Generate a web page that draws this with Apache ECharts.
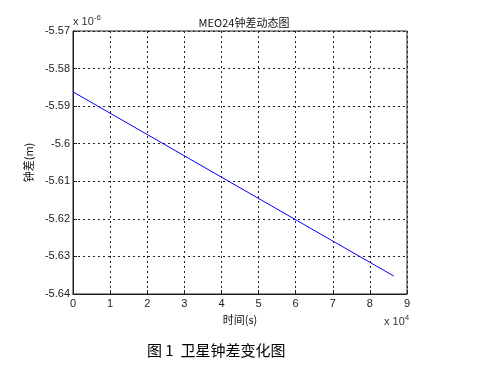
<!DOCTYPE html>
<html>
<head>
<meta charset="utf-8">
<script src="https://cdn.jsdelivr.net/npm/echarts@6/dist/echarts.min.js"></script>
<style>
html,body{margin:0;padding:0;background:#fff;}
#c{width:481px;height:366px;}
</style>
</head>
<body>
<div id="c"></div>
<script>
// Data (time in seconds, clock offset in units of 1e-6 m)
var timeSec = [0, 40000, 86400];
var clockBias = [-5.5862, -5.6089, -5.6352];
var xTicks = [0, 1, 2, 3, 4, 5, 6, 7, 8, 9];       // x 10^4
var yTicks = ['-5.57','-5.58','-5.59','-5.6','-5.61','-5.62','-5.63','-5.64']; // x 10^-6

var chart = echarts.init(document.getElementById('c'));
var font = 'Liberation Sans, Arial, sans-serif';
var cjk = 'Noto Sans CJK SC, sans-serif';
var seriesData = timeSec.map(function (t, i) { return [t, clockBias[i]]; });

chart.setOption({
  animation: false,
  backgroundColor: '#fff',
  title: {
    text: 'MEO24钟差动态图',
    left: 239, top: 12, textAlign: 'center',
    textStyle: {fontSize: 11, fontWeight: 'normal', color: '#111', fontFamily: cjk}
  },
  grid: {left: 73, right: 74, top: 31, bottom: 72, show: true, borderColor: '#222', borderWidth: 1},
  xAxis: {
    type: 'value', min: 0, max: 90000, interval: 10000,
    name: '时间(s)', nameLocation: 'middle', nameGap: 17,
    nameTextStyle: {fontSize: 11, color: '#111', fontFamily: cjk},
    axisLine: {show: true, onZero: false, lineStyle: {color: '#222'}},
    axisTick: {show: true, inside: true, length: 4, lineStyle: {color: '#222'}},
    axisLabel: {fontSize: 11, color: '#222', fontFamily: font, margin: 4,
      formatter: function (v) { return String(xTicks[Math.round(v / 10000)]); }},
    splitLine: {show: true, lineStyle: {color: '#222', type: [2, 3], width: 1}}
  },
  yAxis: {
    type: 'value', min: -5.64, max: -5.57, interval: 0.01,
    name: '钟差(m)', nameLocation: 'middle', nameGap: 30, nameRotate: 90,
    nameTextStyle: {fontSize: 11, color: '#111', fontFamily: cjk},
    axisLine: {show: true, onZero: false, lineStyle: {color: '#222'}},
    axisTick: {show: true, inside: true, length: 4, lineStyle: {color: '#222'}},
    axisLabel: {fontSize: 11, color: '#222', fontFamily: font, margin: 3,
      formatter: function (v) {
        var idx = Math.round((-5.57 - v) / 0.01);
        return yTicks[idx];
      }},
    splitLine: {show: true, lineStyle: {color: '#222', type: [2, 3], width: 1}}
  },
  series: [{
    type: 'line', data: seriesData, showSymbol: false,
    lineStyle: {color: '#0000ff', width: 1}
  }],
  graphic: [
    {type: 'text', left: 73, top: 14, style: {
      text: '{a|x 10}{b|-6}', rich: {
        a: {fontSize: 11, fill: '#333', fontFamily: font},
        b: {fontSize: 8, fill: '#333', fontFamily: font, padding: [0,0,8,0]}
      }}},
    {type: 'text', left: 384, top: 314, style: {
      text: '{a|x 10}{b|4}', rich: {
        a: {fontSize: 11, fill: '#333', fontFamily: font},
        b: {fontSize: 8, fill: '#333', fontFamily: font, padding: [0,0,8,0]}
      }}},
    {type: 'text', left: 147, top: 343, style: {
      text: '图 1  卫星钟差变化图', fontSize: 15, fill: '#000', fontFamily: cjk
    }}
  ]
});
</script>
</body>
</html>
